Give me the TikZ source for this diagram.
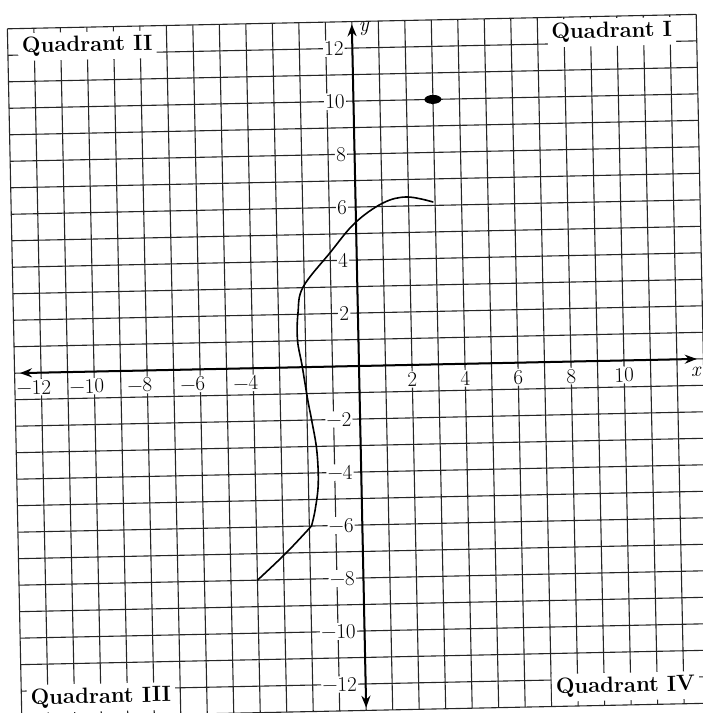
\documentclass[tikz,border=0pt]{standalone}
\usepackage{fontspec}
\usetikzlibrary{arrows.meta}
\tikzset{
  gridline/.style={line width=1.1pt, draw=black!85},
  axisline/.style={line width=2pt, draw=black, {Stealth[length=12pt,width=9pt]}-{Stealth[length=12pt,width=9pt]}},
  num/.style={font=\fontsize{21}{21}\selectfont, fill=white, inner sep=1.2pt},
  quad/.style={font=\fontsize{22}{22}\selectfont\bfseries, fill=white, inner sep=4pt},
  axlabel/.style={font=\fontsize{21}{21}\selectfont\itshape, inner sep=1pt},
  curveline/.style={line width=1.6pt, draw=black, line join=round, line cap=round},
}
\begin{document}
\begin{tikzpicture}[x=1pt,y=1pt]
\useasboundingbox (0,0) rectangle (703,-713);
\fill[white] (0,0) rectangle (703,-713);
\begin{scope}[shift={(359pt,-366pt)}, rotate=1.2, x=26.5pt, y=26.5pt, transform shape]
  % grid
  \foreach \i in {-13,...,13} {
    \draw[gridline] (\i,-13) -- (\i,13);
    \draw[gridline] (-13,\i) -- (13,\i);
  }
  % tick labels on x-axis
  \foreach \n in {2,4,6,8,10} {
    \node[num] (xp\n) at (\n,-0.55) {\n};
  }
  \foreach \n in {4,6,8,10,12} {
    \node[num] (xn\n) at (-\n,-0.55) {\llap{−}\n};
  }
  % tick labels on y-axis
  \foreach \n in {2,4,6,8,10,12} {
    \node[num, anchor=east] (yp\n) at (-0.28,\n) {\n};
    \node[num, anchor=east] (yn\n) at (-0.28,-\n) {−\n};
  }
  % quadrant labels
  \node[quad] (q1) at (9.8,12.4) {Quadrant I};
  \node[quad] (q2) at (-10.0,12.3) {Quadrant II};
  \node[quad] (q3) at (-10.0,-12.3) {Quadrant III};
  \node[quad] (q4) at (9.8,-12.3) {Quadrant IV};
  % axes
  \coordinate (xl) at (-12.8,0);
  \coordinate (xr) at (12.75,0);
  \coordinate (yb) at (0,-12.9);
  \coordinate (yt) at (0,12.9);
  \draw[axisline] (xl) -- (xr);
  \draw[axisline] (yb) -- (yt);
  \node[axlabel] (xlab) at (12.7,-0.5) {x};
  \node[axlabel] (ylab) at (0.45,12.7) {y};
  % curve
  \draw[curveline] plot[smooth, tension=0.6] coordinates {(-4,-8) (-2.9,-7.0) (-1.92,-6)}
    -- plot[smooth, tension=0.6] coordinates {(-1.92,-6) (-1.77,-5.4) (-1.63,-4.4) (-1.66,-3.14) (-1.83,-2.0) (-1.96,-1.24) (-2.15,0.08) (-2.3,1.03) (-2.26,2.05) (-2.05,3.02) (-1.0,4.3) (-0.04,5.4) (1.03,6.13) (1.94,6.34) (2.92,6.13)};
  % point
  \fill[black] (3,10) ellipse [x radius=8.5pt, y radius=4.5pt];
\end{scope}
\end{tikzpicture}
\end{document}
